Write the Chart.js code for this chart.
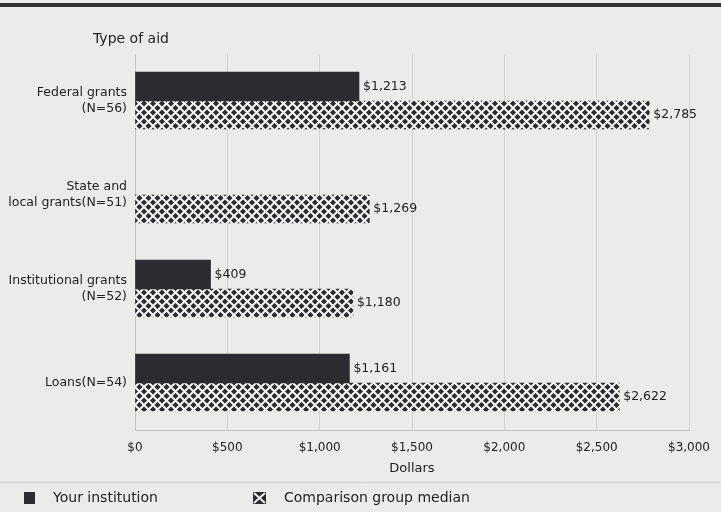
<!DOCTYPE html>
<html>
<head>
<meta charset="utf-8">
<script src="https://cdn.jsdelivr.net/npm/chart.js@4"></script>
<style>
  html, body { margin: 0; padding: 0; background: #ebebe9; }
  #wrap { width: 721px; height: 512px; position: relative; }
</style>
</head>
<body>
<div id="wrap"><canvas id="aidChart" width="721" height="512"></canvas></div>
<script>
const categories = [
  ['Federal grants', '(N=56)'],
  ['State and', 'local grants(N=51)'],
  ['Institutional grants', '(N=52)'],
  ['Loans(N=54)']
];
const seriesNames = ['Your institution', 'Comparison group median'];
const institutionValues = [1213, null, 409, 1161];
const medianValues = [2785, 1269, 1180, 2622];
const xTicks = [0, 500, 1000, 1500, 2000, 2500, 3000];

const FONT = "'DejaVu Sans', sans-serif";
const DARK = '#2c2c30';

// diamond cross-hatch used for the comparison bars
function makeHatch() {
  const s = 9;
  const c = document.createElement('canvas');
  c.width = s; c.height = s;
  const g = c.getContext('2d');
  g.fillStyle = DARK;
  g.fillRect(0, 0, s, s);
  g.strokeStyle = '#f6f6f6';
  g.lineWidth = 2;
  g.beginPath();
  g.moveTo(-1, -1); g.lineTo(s + 1, s + 1);
  g.moveTo(-1, s + 1); g.lineTo(s + 1, -1);
  g.stroke();
  return g.createPattern(c, 'repeat');
}

const fmt = v => '$' + v.toLocaleString('en-US');

const extras = {
  id: 'extras',
  beforeDraw(chart) {
    const ctx = chart.ctx;
    ctx.save();
    ctx.fillStyle = '#333';
    ctx.fillRect(0, 3, chart.width, 4);
    ctx.strokeStyle = '#cfcfcd';
    ctx.lineWidth = 1;
    ctx.beginPath();
    ctx.moveTo(0, 482.5); ctx.lineTo(chart.width, 482.5);
    ctx.stroke();
    ctx.fillStyle = '#222';
    ctx.font = '14px ' + FONT;
    ctx.textBaseline = 'alphabetic';
    ctx.fillText('Type of aid', 93, 43);
    ctx.restore();
  },
  afterDatasetsDraw(chart) {
    const ctx = chart.ctx;
    ctx.save();
    ctx.font = '12.5px ' + FONT;
    ctx.fillStyle = '#222';
    ctx.textBaseline = 'middle';
    chart.data.datasets.forEach((ds, i) => {
      chart.getDatasetMeta(i).data.forEach((bar, j) => {
        const v = ds.data[j];
        if (v == null) return;
        ctx.fillText(fmt(v), bar.x + 4, bar.y);
      });
    });
    ctx.restore();
  },
  afterDraw(chart) {
    // legend row under the separator
    const ctx = chart.ctx;
    const spots = [15, 253];
    ctx.save();
    ctx.font = '14px ' + FONT;
    ctx.textBaseline = 'middle';
    chart.data.datasets.forEach((ds, i) => {
      const x = spots[i], y = 498;
      if (i === 0) {
        ctx.fillStyle = DARK;
        ctx.fillRect(x + 9, y - 6, 11, 12);
      } else {
        ctx.fillStyle = DARK;
        ctx.fillRect(x, y - 6, 13, 12);
        ctx.strokeStyle = '#f4f4f4';
        ctx.lineWidth = 1.8;
        ctx.beginPath();
        ctx.moveTo(x + 1, y - 5); ctx.lineTo(x + 12, y + 5);
        ctx.moveTo(x + 1, y + 5); ctx.lineTo(x + 12, y - 5);
        ctx.stroke();
      }
      ctx.fillStyle = '#222';
      ctx.fillText(ds.label, i === 0 ? x + 38 : x + 31, y);
    });
    ctx.restore();
  }
};

new Chart(document.getElementById('aidChart'), {
  type: 'bar',
  data: {
    labels: categories,
    datasets: [
      { label: seriesNames[0], data: institutionValues, backgroundColor: DARK, barThickness: 29 },
      { label: seriesNames[1], data: medianValues, backgroundColor: makeHatch(), barThickness: 28 }
    ]
  },
  options: {
    indexAxis: 'y',
    responsive: false,
    animation: false,
    layout: { padding: { top: 54, right: 32, left: 0, bottom: 32 } },
    plugins: {
      legend: { display: false },
      tooltip: { enabled: false }
    },
    scales: {
      x: {
        min: 0,
        max: 3000,
        afterBuildTicks: s => { s.ticks = xTicks.map(v => ({ value: v })); },
        afterFit: s => { s.height = 50; },
        grid: { color: '#d2d2d0', drawTicks: false },
        border: { color: '#c4c4c2' },
        ticks: {
          padding: 11,
          color: '#222',
          font: { family: FONT, size: 12 },
          callback: v => fmt(v)
        },
        title: {
          display: true,
          text: 'Dollars',
          color: '#222',
          padding: { top: 0 },
          font: { family: FONT, size: 13 }
        }
      },
      y: {
        afterFit: s => { s.width = 135; },
        grid: { display: false, drawTicks: false },
        border: { color: '#c4c4c2' },
        ticks: {
          padding: 8,
          color: '#222',
          font: { family: FONT, size: 12.5, lineHeight: 1.25 }
        }
      }
    }
  },
  plugins: [extras]
});
</script>
</body>
</html>
